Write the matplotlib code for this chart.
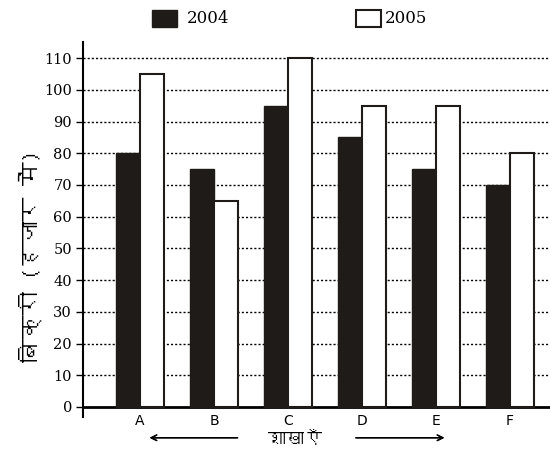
import matplotlib
matplotlib.use('Agg')
import matplotlib.pyplot as plt
from matplotlib import font_manager
from matplotlib.ft2font import FT2Font
from matplotlib.patches import Rectangle
import numpy as np

branches = ['A', 'B', 'C', 'D', 'E', 'F']
sales_2004 = [80, 75, 95, 85, 75, 70]
sales_2005 = [105, 65, 110, 95, 95, 80]
y_ticks = [0, 10, 20, 30, 40, 50, 60, 70, 80, 90, 100, 110]
y_label = 'बिक्री (हजार में)'
x_label = 'शाखाएँ'
series_names = ['2004', '2005']

# look for any installed font that has Devanagari
deva = None
for f in font_manager.fontManager.ttflist:
    try:
        if 0x0915 in FT2Font(f.fname).get_charmap():
            deva = f.name
            break
    except Exception:
        pass
deva_family = [deva, 'DejaVu Sans'] if deva else ['DejaVu Sans']
serif = 'DejaVu Serif'

fig = plt.figure(figsize=(5.5, 4.49), dpi=100)
ax = fig.add_axes([0.151, 0.071, 0.849, 0.835])

x = np.arange(len(branches))
w = 0.32
ax.bar(x - w / 2, sales_2004, w, color='#1e1b19', edgecolor='#1e1b19', zorder=3)
ax.bar(x + w / 2, sales_2005, w, color='white', edgecolor='#1e1b19', linewidth=1.5, zorder=3)

ax.set_xlim(-0.77, 5.54)
ax.set_ylim(-3.2, 115)
ax.set_yticks(y_ticks)
ax.set_yticklabels([str(t) for t in y_ticks], fontfamily=serif, fontsize=10.5)
ax.set_xticks(x)
ax.set_xticklabels(branches, fontfamily=serif, fontsize=10.5)

ax.spines['top'].set_visible(False)
ax.spines['right'].set_visible(False)
ax.spines['bottom'].set_position(('data', 0))
ax.spines['bottom'].set_linewidth(2)
ax.spines['left'].set_linewidth(1.5)
ax.tick_params(axis='y', length=5, width=1, pad=3)
ax.tick_params(axis='x', length=0, pad=5)

for t in y_ticks[1:]:
    ax.axhline(t, color='black', linestyle=(0, (1.5, 1.5)), linewidth=1, zorder=1)

fig.text(0.055, 0.43, y_label, rotation=90, ha='center', va='center',
         fontsize=17, family=deva_family)
fig.text(0.537, 0.022, x_label, ha='center', va='center', fontsize=13, family=deva_family)
fig.add_artist(plt.annotate('', xy=(0.267, 0.025), xytext=(0.437, 0.025),
               xycoords='figure fraction',
               arrowprops=dict(arrowstyle='->', color='black', lw=1)))
fig.add_artist(plt.annotate('', xy=(0.813, 0.025), xytext=(0.642, 0.025),
               xycoords='figure fraction',
               arrowprops=dict(arrowstyle='->', color='black', lw=1)))

# legend squares
fig.add_artist(Rectangle((0.277, 0.94), 0.045, 0.038, transform=fig.transFigure,
                         facecolor='#1e1b19', edgecolor='#1e1b19'))
fig.text(0.34, 0.959, series_names[0], fontfamily=serif, fontsize=12, va='center')
fig.add_artist(Rectangle((0.647, 0.94), 0.045, 0.038, transform=fig.transFigure,
                         facecolor='white', edgecolor='#1e1b19', linewidth=1.5))
fig.text(0.7, 0.959, series_names[1], fontfamily=serif, fontsize=12, va='center')

fig.savefig('out.png', dpi=100)
